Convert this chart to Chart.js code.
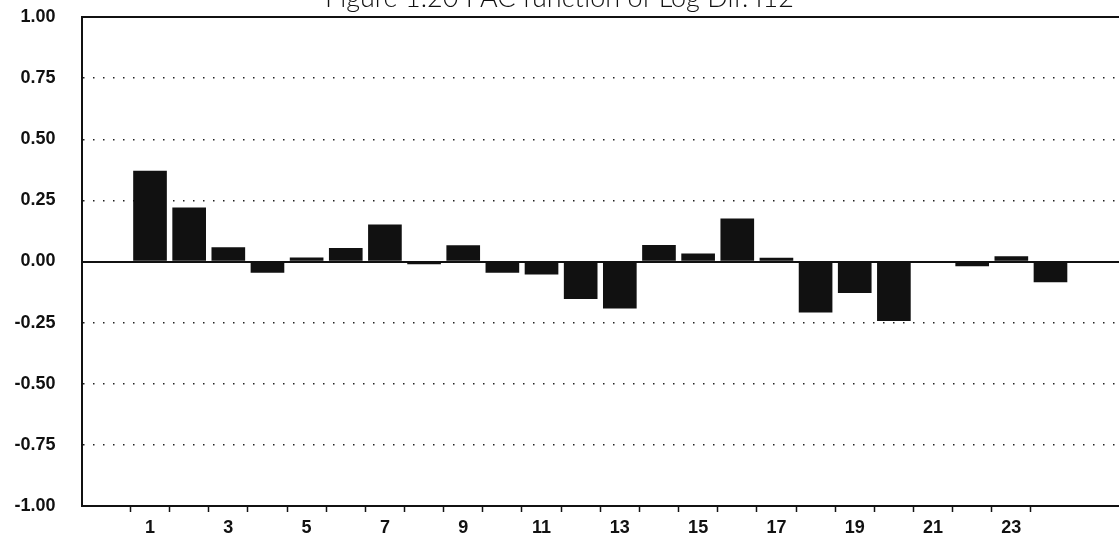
<!DOCTYPE html>
<html>
<head>
<meta charset="utf-8">
<script src="https://cdn.jsdelivr.net/npm/chart.js@4.4.1/dist/chart.umd.min.js"></script>
<style>
  html, body { margin: 0; padding: 0; background: #ffffff; }
  #wrap { width: 1119px; height: 541px; position: relative; }
</style>
</head>
<body>
<div id="wrap"><canvas id="pacf"></canvas></div>
<script>
// Partial autocorrelations by lag
const lags = [1, 2, 3, 4, 5, 6, 7, 8, 9, 10, 11, 12, 13, 14, 15, 16, 17, 18, 19, 20, 21, 22, 23, 24];
const pacf = [0.37, 0.22, 0.057, -0.045, 0.015, 0.054, 0.15, -0.01, 0.065, -0.045, -0.052, -0.152,
              -0.191, 0.066, 0.031, 0.175, 0.014, -0.207, -0.127, -0.242, -0.005, -0.018, 0.02, -0.084];

// Axis ticks
const yTickValues = [-1, -0.75, -0.5, -0.25, 0, 0.25, 0.5, 0.75, 1];
const xLabelledLags = [1, 3, 5, 7, 9, 11, 13, 15, 17, 19, 21, 23];
const xTickMarks = lags.map(l => l - 0.5);

const titleText = 'Figure 1.20 PAC function of Log Dif. I12';

const points = lags.map((l, i) => ({ x: l, y: pacf[i] }));

// Tick list for x: boundary marks between lags plus the lag centres that carry labels
const xAllTicks = [];
xTickMarks.forEach(v => { xAllTicks.push(v); xAllTicks.push(v + 0.5); });

const labelFont = { family: '"Liberation Sans", Arial, sans-serif', size: 18, weight: 'bold' };

// Title sits at the very top edge, partly above the canvas
const topTitle = {
  id: 'topTitle',
  afterDraw(chart) {
    const c = chart.ctx;
    c.save();
    c.font = '300 27px Lato, "DejaVu Sans", sans-serif';
    c.fillStyle = '#111111';
    c.textAlign = 'center';
    c.textBaseline = 'alphabetic';
    c.fillText(titleText, chart.width / 2, 7);
    c.restore();
  }
};

new Chart(document.getElementById('pacf'), {
  type: 'bar',
  data: {
    datasets: [{
      label: 'PACF',
      data: points,
      backgroundColor: '#111111',
      borderWidth: 0,
      barThickness: 33
    }]
  },
  options: {
    responsive: true,
    maintainAspectRatio: false,
    animation: false,
    layout: { padding: { left: 14.5, right: 0, top: 17, bottom: 3 } },
    plugins: {
      legend: { display: false },
      tooltip: { enabled: false },
      title: { display: false }
    },
    scales: {
      x: {
        type: 'linear',
        min: -0.75,
        max: 25.75,
        offset: false,
        afterBuildTicks: scale => { scale.ticks = xAllTicks.map(v => ({ value: v })); },
        afterFit: scale => { scale.height = 32; scale.paddingLeft = 0; scale.paddingRight = 0; },
        ticks: {
          autoSkip: false,
          maxRotation: 0,
          padding: 5,
          color: '#111111',
          font: labelFont,
          callback: v => (xLabelledLags.includes(v) ? String(v) : '')
        },
        grid: {
          offset: false,
          drawOnChartArea: false,
          drawTicks: true,
          tickLength: 6,
          tickWidth: 1.5,
          tickColor: ctx => (ctx.tick && Number.isInteger(ctx.tick.value) ? 'rgba(0,0,0,0)' : '#111111')
        },
        border: { display: true, color: '#111111', width: 2 }
      },
      y: {
        type: 'linear',
        min: -1,
        max: 1,
        afterBuildTicks: scale => { scale.ticks = yTickValues.map(v => ({ value: v })); },
        afterFit: scale => { scale.width = 67; scale.paddingTop = 0; scale.paddingBottom = 0; },
        ticks: {
          padding: 26,
          color: '#111111',
          font: labelFont,
          callback: v => v.toFixed(2)
        },
        grid: {
          drawTicks: false,
          color: ctx => {
            const v = ctx.tick ? ctx.tick.value : null;
            if (v === 0 || v === 1) return '#111111';
            if (v === -1) return 'rgba(0,0,0,0)';
            return '#222222';
          },
          lineWidth: ctx => {
            const v = ctx.tick ? ctx.tick.value : null;
            return (v === 0 || v === 1) ? 2 : 1.5;
          }
        },
        border: {
          display: true,
          color: '#111111',
          width: 2,
          dash: ctx => {
            const v = ctx.tick ? ctx.tick.value : null;
            return (v === null || v === 0 || Math.abs(v) === 1) ? [] : [1.5, 8.5];
          }
        }
      }
    }
  },
  plugins: [topTitle]
});
</script>
</body>
</html>
